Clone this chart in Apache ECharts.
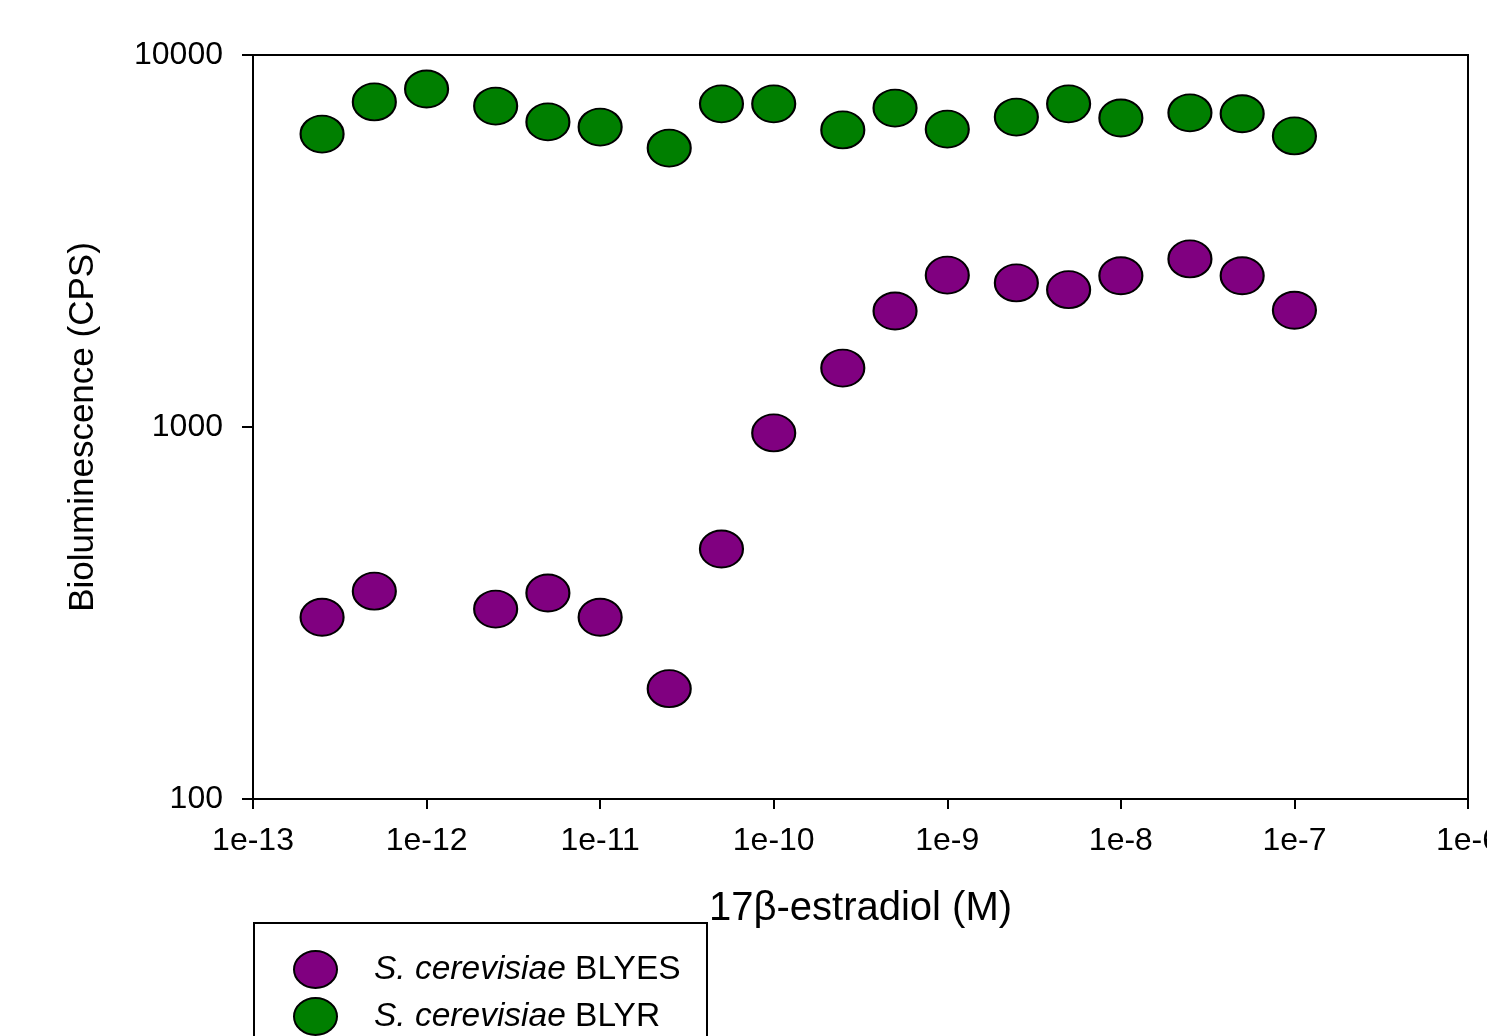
<!DOCTYPE html>
<html>
<head>
<meta charset="utf-8">
<script src="https://cdn.jsdelivr.net/npm/echarts@6/dist/echarts.min.js"></script>
<style>
html,body{margin:0;padding:0;background:#fff;}
#chart{width:1487px;height:1036px;}
</style>
</head>
<body>
<div id="chart"></div>
<script>
// Concentrations of 17β-estradiol (M)
const concentrations = [2.5e-13, 5e-13, 1e-12, 2.5e-12, 5e-12, 1e-11, 2.5e-11, 5e-11, 1e-10,
  2.5e-10, 5e-10, 1e-9, 2.5e-9, 5e-9, 1e-8, 2.5e-8, 5e-8, 1e-7];
// Bioluminescence (CPS)
const blyesValues = [308, 362, null, 324, 358, 308, 198, 470, 964,
  1440, 2050, 2560, 2440, 2340, 2550, 2830, 2550, 2060];
const blyrValues = [6130, 7480, 8100, 7290, 6610, 6400, 5620, 7390, 7390,
  6290, 7200, 6320, 6810, 7390, 6770, 6990, 6950, 6060];
const seriesNames = ['S. cerevisiae BLYES', 'S. cerevisiae BLYR'];
const xTickValues = [1e-13, 1e-12, 1e-11, 1e-10, 1e-9, 1e-8, 1e-7, 1e-6];
const yTickValues = [100, 1000, 10000];

const ellipse = 'path://M50,0A50,50 0 1,1 50,100A50,50 0 1,1 50,0Z';
const font = 'Liberation Sans, Arial, sans-serif';

function pairs(vals) {
  const out = [];
  vals.forEach((v, i) => { if (v !== null) out.push([concentrations[i], v]); });
  return out;
}

function legendFor(name, top) {
  return {
    left: 293, top: top, orient: 'vertical', align: 'left', z: 10,
    data: [{name: name, icon: ellipse}],
    itemWidth: 43, itemHeight: 37, symbolKeepAspect: false,
    padding: 0,
    itemStyle: {borderColor: '#000', borderWidth: 2},
    formatter: n => {
      const parts = n.split(' ');
      return '{i|' + parts[0] + ' ' + parts[1] + '} ' + parts[2];
    },
    textStyle: {fontSize: 33.5, color: '#000', fontFamily: font, padding: [0, 0, 0, 32],
      rich: {i: {fontStyle: 'italic', fontSize: 33.5, color: '#000', fontFamily: font}}}
  };
}

const chart = echarts.init(document.getElementById('chart'), null, {renderer: 'canvas'});
chart.setOption({
  animation: false,
  backgroundColor: '#fff',
  textStyle: {fontFamily: font, color: '#000'},
  grid: {left: 253, right: 19, top: 55, bottom: 237, show: true, borderColor: '#000', borderWidth: 2,
    containLabel: false, outerBoundsMode: 'none'},
  graphic: [{
    type: 'rect', left: 253, top: 922, z: 0,
    shape: {width: 453, height: 200},
    style: {fill: '#fff', stroke: '#000', lineWidth: 2}
  }],
  xAxis: {
    type: 'log', logBase: 10, min: xTickValues[0], max: xTickValues[xTickValues.length - 1],
    name: '17β-estradiol (M)', nameLocation: 'middle', nameGap: 90,
    nameTextStyle: {fontSize: 40, color: '#000', fontFamily: font},
    axisLine: {lineStyle: {color: '#000', width: 2}},
    axisTick: {show: true, inside: false, length: 10, lineStyle: {color: '#000', width: 2}},
    minorTick: {show: false},
    splitLine: {show: false},
    axisLabel: {fontSize: 32, color: '#000', margin: 26, fontFamily: font, showMaxLabel: true, showMinLabel: true,
      hideOverlap: false,
      formatter: v => '1e' + Math.round(Math.log10(v))}
  },
  yAxis: {
    type: 'log', logBase: 10, min: yTickValues[0], max: yTickValues[yTickValues.length - 1],
    name: 'Bioluminescence (CPS)', nameLocation: 'middle', nameGap: 152, nameRotate: 90,
    nameTextStyle: {fontSize: 35, color: '#000', fontFamily: font},
    axisLine: {lineStyle: {color: '#000', width: 2}},
    axisTick: {show: true, inside: false, length: 11, lineStyle: {color: '#000', width: 2}},
    minorTick: {show: false},
    splitLine: {show: false},
    axisLabel: {fontSize: 32, color: '#000', margin: 30, fontFamily: font,
      formatter: v => String(Math.round(v))}
  },
  legend: [legendFor(seriesNames[0], 950), legendFor(seriesNames[1], 997)],
  series: [
    {
      name: seriesNames[0], type: 'scatter', data: pairs(blyesValues),
      symbol: ellipse, symbolSize: [43, 37], symbolKeepAspect: false,
      itemStyle: {color: '#800080', borderColor: '#000', borderWidth: 2, opacity: 1}
    },
    {
      name: seriesNames[1], type: 'scatter', data: pairs(blyrValues),
      symbol: ellipse, symbolSize: [43, 37], symbolKeepAspect: false,
      itemStyle: {color: '#007f00', borderColor: '#000', borderWidth: 2, opacity: 1}
    }
  ]
});
</script>
</body>
</html>
